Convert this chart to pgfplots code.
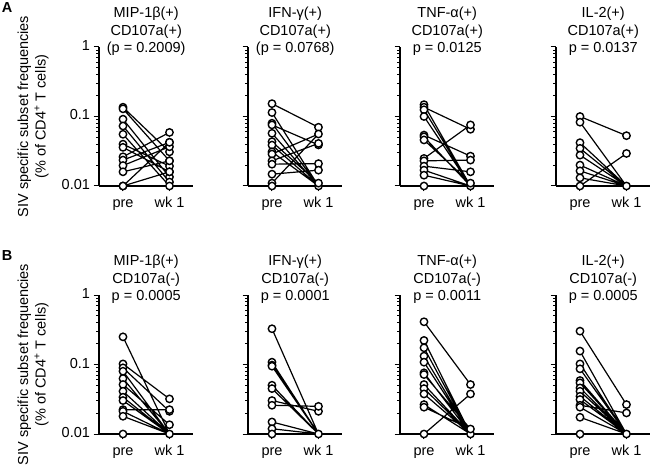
\documentclass[border=0pt]{standalone}
\usepackage{fontspec}
\setmainfont{Liberation Sans}
\usepackage{pgfplots}
\pgfplotsset{compat=1.18}
\newcommand{\myfs}{\fontsize{14.5}{17.5}\selectfont}

\pgfplotsset{
  every axis/.append style={
    scale only axis, width=93.5pt, height=139pt,
    xmin=-0.516, xmax=1.495, ymin=0.01, ymax=1,
    axis x line*=bottom, axis y line*=left,
    axis line style={line width=1.1pt, black},
    xtick={0,1}, xticklabels={pre, wk 1},
    ytick={0.01,0.1,1},
    minor ytick={0.02,0.03,0.04,0.05,0.06,0.07,0.08,0.09,0.2,0.3,0.4,0.5,0.6,0.7,0.8,0.9},
    tick align=outside, tick style={black, line width=1pt},
    major tick length=5.5pt, minor tick length=3pt,
    ticklabel style={font=\myfs},
    typeset ticklabels with strut,
    clip=false, unbounded coords=jump,
    title style={font=\myfs, align=center, anchor=center,
      at={(0.505,1)}, yshift=9.5pt},
  },
}
\tikzset{
  mylines/.style={black, line width=1.2pt, mark=none},
  mymarks/.style={only marks, mark=*, mark size=3.7pt,
    mark options={draw=black, fill=white, line width=1.4pt}},
}

\begin{document}
\begin{tikzpicture}
\useasboundingbox (0,0) rectangle (650pt,471pt);

% ---------- Row A ----------
\begin{semilogyaxis}[at={(99pt,285pt)}, anchor=south west,
  yticklabels={0.01,0.1,1},
  title={MIP-1β(+)\\CD107a(+)\\(p = 0.2009)}]
\addplot[mylines] coordinates {
(0,0.136) (1,0.031) (nan,nan)
(0,0.129) (1,0.023) (nan,nan)
(0,0.0915) (1,0.0135) (nan,nan)
(0,0.073) (1,0.0114) (nan,nan)
(0,0.0555) (1,0.01) (nan,nan)
(0,0.040) (1,0.0193) (nan,nan)
(0,0.036) (1,0.016) (nan,nan)
(0,0.0263) (1,0.059) (nan,nan)
(0,0.0236) (1,0.0425) (nan,nan)
(0,0.0197) (1,0.0367) (nan,nan)
(0,0.016) (1,0.023) (nan,nan)
(0,0.01) (1,0.0425) (nan,nan)
(0,0.01) (1,0.016)
};
\addplot[mymarks] coordinates {
(0,0.136) (1,0.031) (0,0.129) (1,0.023) (0,0.0915) (1,0.0135)
(0,0.073) (1,0.0114) (0,0.0555) (1,0.01) (0,0.040) (1,0.0193)
(0,0.036) (1,0.016) (0,0.0263) (1,0.059) (0,0.0236) (1,0.0425)
(0,0.0197) (1,0.0367) (0,0.016) (1,0.023) (0,0.01) (1,0.0425)
(0,0.01) (1,0.016)
};
\end{semilogyaxis}

\begin{semilogyaxis}[at={(248pt,285pt)}, anchor=south west,
  yticklabels={},
  title={IFN-γ(+)\\CD107a(+)\\(p = 0.0768)}]
\addplot[mylines] coordinates {
(0,0.153) (1,0.070) (nan,nan)
(0,0.114) (1,0.01) (nan,nan)
(0,0.080) (1,0.01) (nan,nan)
(0,0.0757) (1,0.039) (nan,nan)
(0,0.0573) (1,0.01) (nan,nan)
(0,0.0434) (1,0.011) (nan,nan)
(0,0.0388) (1,0.01) (nan,nan)
(0,0.031) (1,0.01) (nan,nan)
(0,0.0288) (1,0.056) (nan,nan)
(0,0.023) (1,0.041) (nan,nan)
(0,0.0206) (1,0.021) (nan,nan)
(0,0.0148) (1,0.0169) (nan,nan)
(0,0.011) (1,0.056) (nan,nan)
(0,0.01) (1,0.01)
};
\addplot[mymarks] coordinates {
(0,0.153) (1,0.070) (0,0.114) (1,0.01) (0,0.080) (0,0.0757) (1,0.039)
(0,0.0573) (0,0.0434) (1,0.011) (0,0.0388) (0,0.031) (0,0.0288) (1,0.056)
(0,0.023) (1,0.041) (0,0.0206) (1,0.021) (0,0.0148) (1,0.0169)
(0,0.011) (0,0.01)
};
\end{semilogyaxis}

\begin{semilogyaxis}[at={(400pt,285pt)}, anchor=south west,
  yticklabels={},
  title={TNF-α(+)\\CD107a(+)\\p = 0.0125}]
\addplot[mylines] coordinates {
(0,0.148) (1,0.01) (nan,nan)
(0,0.136) (1,0.0655) (nan,nan)
(0,0.125) (1,0.01) (nan,nan)
(0,0.100) (1,0.01) (nan,nan)
(0,0.054) (1,0.0269) (nan,nan)
(0,0.051) (1,0.01) (nan,nan)
(0,0.046) (1,0.011) (nan,nan)
(0,0.0249) (1,0.0757) (nan,nan)
(0,0.023) (1,0.0236) (nan,nan)
(0,0.0193) (1,0.016) (nan,nan)
(0,0.0169) (1,0.01) (nan,nan)
(0,0.0143) (1,0.01) (nan,nan)
(0,0.01) (1,0.01)
};
\addplot[mymarks] coordinates {
(0,0.148) (1,0.01) (0,0.136) (1,0.0655) (0,0.125) (0,0.100)
(0,0.054) (1,0.0269) (0,0.051) (0,0.046) (1,0.011) (0,0.0249) (1,0.0757)
(0,0.023) (1,0.0236) (0,0.0193) (1,0.016) (0,0.0169) (0,0.0143) (0,0.01)
};
\end{semilogyaxis}

\begin{semilogyaxis}[at={(556pt,285pt)}, anchor=south west,
  yticklabels={},
  title={IL-2(+)\\CD107a(+)\\p = 0.0137}]
\addplot[mylines] coordinates {
(0,0.100) (1,0.053) (nan,nan)
(0,0.0828) (1,0.01) (nan,nan)
(0,0.042) (1,0.01) (nan,nan)
(0,0.0348) (1,0.01) (nan,nan)
(0,0.0278) (1,0.01) (nan,nan)
(0,0.020) (1,0.01) (nan,nan)
(0,0.0165) (1,0.01) (nan,nan)
(0,0.0131) (1,0.01) (nan,nan)
(0,0.01) (1,0.0294)
};
\addplot[mymarks] coordinates {
(0,0.100) (1,0.053) (0,0.0828) (1,0.01) (0,0.042) (0,0.0348) (0,0.0278)
(0,0.020) (0,0.0165) (0,0.0131) (0,0.01) (1,0.0294)
};
\end{semilogyaxis}

% ---------- Row B ----------
\begin{semilogyaxis}[at={(99pt,37pt)}, anchor=south west,
  yticklabels={0.01,0.1,1},
  title={MIP-1β(+)\\CD107a(-)\\p = 0.0005}]
\addplot[mylines] coordinates {
(0,0.25) (1,0.01) (nan,nan)
(0,0.102) (1,0.032) (nan,nan)
(0,0.0895) (1,0.0212) (nan,nan)
(0,0.080) (1,0.01) (nan,nan)
(0,0.0628) (1,0.01) (nan,nan)
(0,0.0515) (1,0.0136) (nan,nan)
(0,0.0412) (1,0.01) (nan,nan)
(0,0.0338) (1,0.01) (nan,nan)
(0,0.0303) (1,0.01) (nan,nan)
(0,0.0224) (1,0.0224) (nan,nan)
(0,0.0212) (1,0.01) (nan,nan)
(0,0.018) (1,0.01) (nan,nan)
(0,0.01) (1,0.01)
};
\addplot[mymarks] coordinates {
(0,0.25) (1,0.01) (0,0.102) (1,0.032) (0,0.0895) (1,0.0212) (0,0.080)
(0,0.0628) (0,0.0515) (1,0.0136) (0,0.0412) (0,0.0338) (0,0.0303)
(0,0.0224) (1,0.0224) (0,0.0212) (0,0.018) (0,0.01)
};
\end{semilogyaxis}

\begin{semilogyaxis}[at={(248pt,37pt)}, anchor=south west,
  yticklabels={},
  title={IFN-γ(+)\\CD107a(-)\\p = 0.0001}]
\addplot[mylines] coordinates {
(0,0.327) (1,0.01) (nan,nan)
(0,0.108) (1,0.01) (nan,nan)
(0,0.098) (1,0.01) (nan,nan)
(0,0.0946) (1,0.01) (nan,nan)
(0,0.0503) (1,0.01) (nan,nan)
(0,0.045) (1,0.01) (nan,nan)
(0,0.0303) (1,0.0212) (nan,nan)
(0,0.0259) (1,0.025) (nan,nan)
(0,0.0149) (1,0.01) (nan,nan)
(0,0.0119) (1,0.01) (nan,nan)
(0,0.01) (1,0.01)
};
\addplot[mymarks] coordinates {
(0,0.327) (1,0.01) (0,0.108) (0,0.098) (0,0.0946) (0,0.0503) (0,0.045)
(0,0.0303) (1,0.0212) (0,0.0259) (1,0.025) (0,0.0149) (0,0.0119) (0,0.01)
};
\end{semilogyaxis}

\begin{semilogyaxis}[at={(400pt,37pt)}, anchor=south west,
  yticklabels={},
  title={TNF-α(+)\\CD107a(-)\\p = 0.0011}]
\addplot[mylines] coordinates {
(0,0.412) (1,0.0515) (nan,nan)
(0,0.222) (1,0.01) (nan,nan)
(0,0.174) (1,0.01) (nan,nan)
(0,0.132) (1,0.01) (nan,nan)
(0,0.108) (1,0.01) (nan,nan)
(0,0.0759) (1,0.01) (nan,nan)
(0,0.0717) (1,0.0118) (nan,nan)
(0,0.0515) (1,0.01) (nan,nan)
(0,0.045) (1,0.01) (nan,nan)
(0,0.0377) (1,0.01) (nan,nan)
(0,0.0265) (1,0.01) (nan,nan)
(0,0.0243) (1,0.0118) (nan,nan)
(0,0.01) (1,0.0377)
};
\addplot[mymarks] coordinates {
(0,0.412) (1,0.0515) (0,0.222) (1,0.01) (0,0.174) (0,0.132) (0,0.108)
(0,0.0759) (0,0.0717) (1,0.0118) (0,0.0515) (0,0.045) (0,0.0377)
(0,0.0265) (0,0.0243) (0,0.01) (1,0.0377)
};
\end{semilogyaxis}

\begin{semilogyaxis}[at={(556pt,37pt)}, anchor=south west,
  yticklabels={},
  title={IL-2(+)\\CD107a(-)\\p = 0.0005}]
\addplot[mylines] coordinates {
(0,0.302) (1,0.0265) (nan,nan)
(0,0.156) (1,0.01) (nan,nan)
(0,0.102) (1,0.01) (nan,nan)
(0,0.0866) (1,0.01) (nan,nan)
(0,0.0588) (1,0.01) (nan,nan)
(0,0.0544) (1,0.01) (nan,nan)
(0,0.046) (1,0.01) (nan,nan)
(0,0.0412) (1,0.01) (nan,nan)
(0,0.0349) (1,0.01) (nan,nan)
(0,0.0313) (1,0.01) (nan,nan)
(0,0.0259) (1,0.0201) (nan,nan)
(0,0.0243) (1,0.01) (nan,nan)
(0,0.0174) (1,0.01) (nan,nan)
(0,0.01) (1,0.01)
};
\addplot[mymarks] coordinates {
(0,0.302) (1,0.0265) (0,0.156) (1,0.01) (0,0.102) (0,0.0866) (0,0.0588)
(0,0.0544) (0,0.046) (0,0.0412) (0,0.0349) (0,0.0313) (0,0.0259) (1,0.0201)
(0,0.0243) (0,0.0174) (0,0.01)
};
\end{semilogyaxis}

% axis titles and panel letters
\node[rotate=90, align=center, font=\myfs] at (33pt,354.5pt)
  {SIV specific subset frequencies\\(\% of CD4\textsuperscript{+} T cells)};
\node[rotate=90, align=center, font=\myfs] at (33pt,106.5pt)
  {SIV specific subset frequencies\\(\% of CD4\textsuperscript{+} T cells)};
\node[font=\bfseries\myfs] at (7pt,463pt) {A};
\node[font=\bfseries\myfs] at (7pt,215pt) {B};
\end{tikzpicture}
\end{document}
